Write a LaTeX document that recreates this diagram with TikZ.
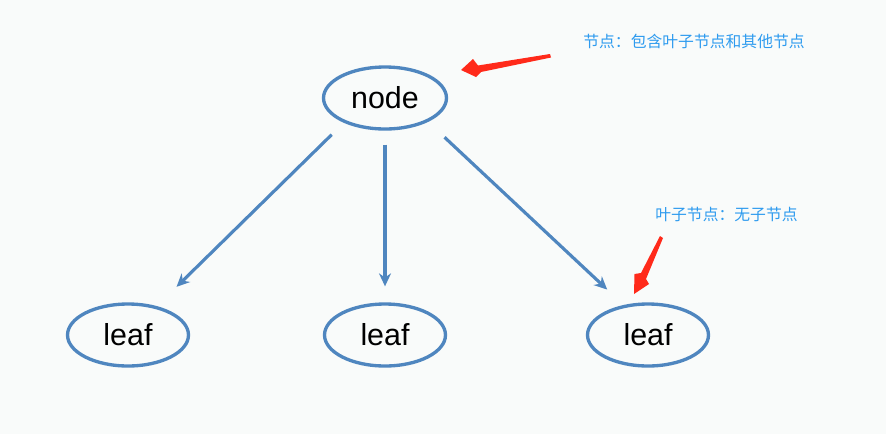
\documentclass[tikz,border=0pt]{standalone}
\usepackage{fontspec}
\setmainfont{Liberation Sans}
\newfontfamily\cjk{Noto Sans CJK SC}
\usetikzlibrary{shapes.geometric,arrows.meta}

\definecolor{bgcol}{HTML}{F9FBFA}
\definecolor{treeblue}{HTML}{4F86BF}
\definecolor{notered}{HTML}{FF2A1A}
\definecolor{noteblue}{HTML}{2E9BEF}

\tikzset{
  treenode/.style={draw=treeblue, line width=1.9pt, ellipse, inner sep=0pt,
    minimum width=2.46cm, minimum height=1.24cm,
    font=\fontsize{17.3}{20}\selectfont},
  leafnode/.style={treenode, minimum width=2.42cm},
  branch/.style={draw=treeblue, line width=1.8pt,
    -{Stealth[length=2.6mm,width=2.4mm]}},
  note/.style={text=noteblue, font=\cjk\fontsize{9}{11}\selectfont, inner sep=0pt},
}

\begin{document}
\begin{tikzpicture}[x=0.02cm, y=-0.02cm]
\fill[bgcol] (0,0) rectangle (886,434);
\useasboundingbox (0,0) rectangle (886,434);

% tree
\node[treenode] (root) at (385,98) {node};
\node[leafnode] (leafL) at (128,335) {leaf};
\node[leafnode] (leafM) at (385,335) {leaf};
\node[leafnode] (leafR) at (648,335) {leaf};

\draw[branch, shorten <=0.34cm, shorten >=0.55cm] (root.211) -- (leafL.45);
\draw[branch, shorten <=0.28cm, shorten >=0.32cm] (root.south) -- (leafM.north);
\draw[branch, shorten <=0.45cm, shorten >=0.45cm] (root.331) -- (leafR.129);

% notes
\node[note, anchor=west] (rootnote) at (583,41) {节点：包含叶子节点和其他节点};
\node[note, anchor=west] (leafnote) at (655,214) {叶子节点：无子节点};

% red pointers
\fill[notered] (550,54) -- (551,57.5) -- (481,72) -- (476,77) -- (461,70)
  -- (473,59) -- (478,65.5) -- cycle;
\fill[notered] (660,236) -- (663,238) -- (646,279) -- (649,284) -- (634,294)
  -- (634.5,274) -- (641,273) -- cycle;
\end{tikzpicture}
\end{document}
